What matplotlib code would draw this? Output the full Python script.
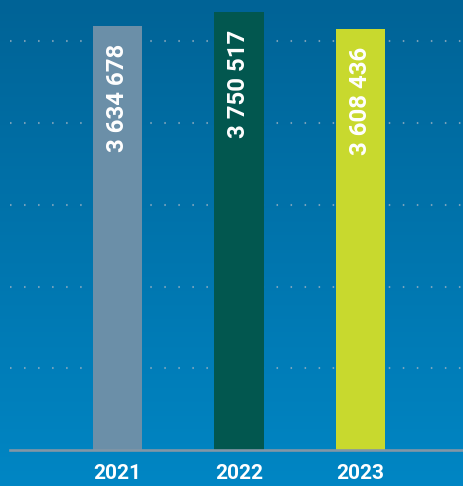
import numpy as np
import matplotlib
matplotlib.use("Agg")
import matplotlib.pyplot as plt
from matplotlib.colors import LinearSegmentedColormap

years = ["2021", "2022", "2023"]
values = [3634678, 3750517, 3608436]
bar_colors = ["#6b8fa8", "#02574f", "#c8d92e"]
labels = ["3 634 678", "3 750 517", "3 608 436"]
grid_values = [700000, 1400000, 2100000, 2800000, 3500000]

plt.rcParams["font.family"] = ["Roboto", "DejaVu Sans"]
plt.rcParams["lines.scale_dashes"] = False

W, H = 463, 486
fig = plt.figure(figsize=(W / 100, H / 100), dpi=100)

# background gradient
bg = fig.add_axes([0, 0, 1, 1])
grad = np.linspace(0, 1, 256).reshape(-1, 1)
cmap = LinearSegmentedColormap.from_list("bg", ["#006396", "#0086c4"])
bg.imshow(grad, aspect="auto", cmap=cmap, extent=[0, 1, 0, 1])
bg.axis("off")

# main axes: left edge 10px, baseline 36px from bottom
left, bottom = 10, 36
ax = fig.add_axes([left / W, bottom / H, (W - left) / W, (H - bottom) / H])
ax.patch.set_alpha(0)
per_px = 8563
unit = 121.5
c0 = 107.5
ax.set_xlim(-c0 / unit, (W - left - c0) / unit)
ax.set_ylim(0, (H - bottom) * per_px)

for g in grid_values:
    ax.axhline(g, color="#9fb3c2", linewidth=1.5, dashes=(1.1, 9.0), alpha=0.75, zorder=1)

x = np.arange(len(years))
ax.bar(x, values, width=49 / unit, color=bar_colors, zorder=2)

for xi, v, lab in zip(x, values, labels):
    ax.annotate(lab, (xi, v), xytext=(0, -13), textcoords="offset points",
                rotation=90, ha="center", va="top", color="white",
                fontsize=17.3, fontweight="bold", zorder=3)

ax.axhline(0, color="#8296a6", linewidth=1.9, zorder=4, clip_on=False)

for s in ax.spines.values():
    s.set_visible(False)
ax.set_yticks([])
ax.set_xticks(x)
ax.set_xticklabels(years, color="white", fontsize=15, fontweight="bold")
ax.tick_params(axis="x", length=0, pad=10)

fig.savefig("out.png", dpi=100)
